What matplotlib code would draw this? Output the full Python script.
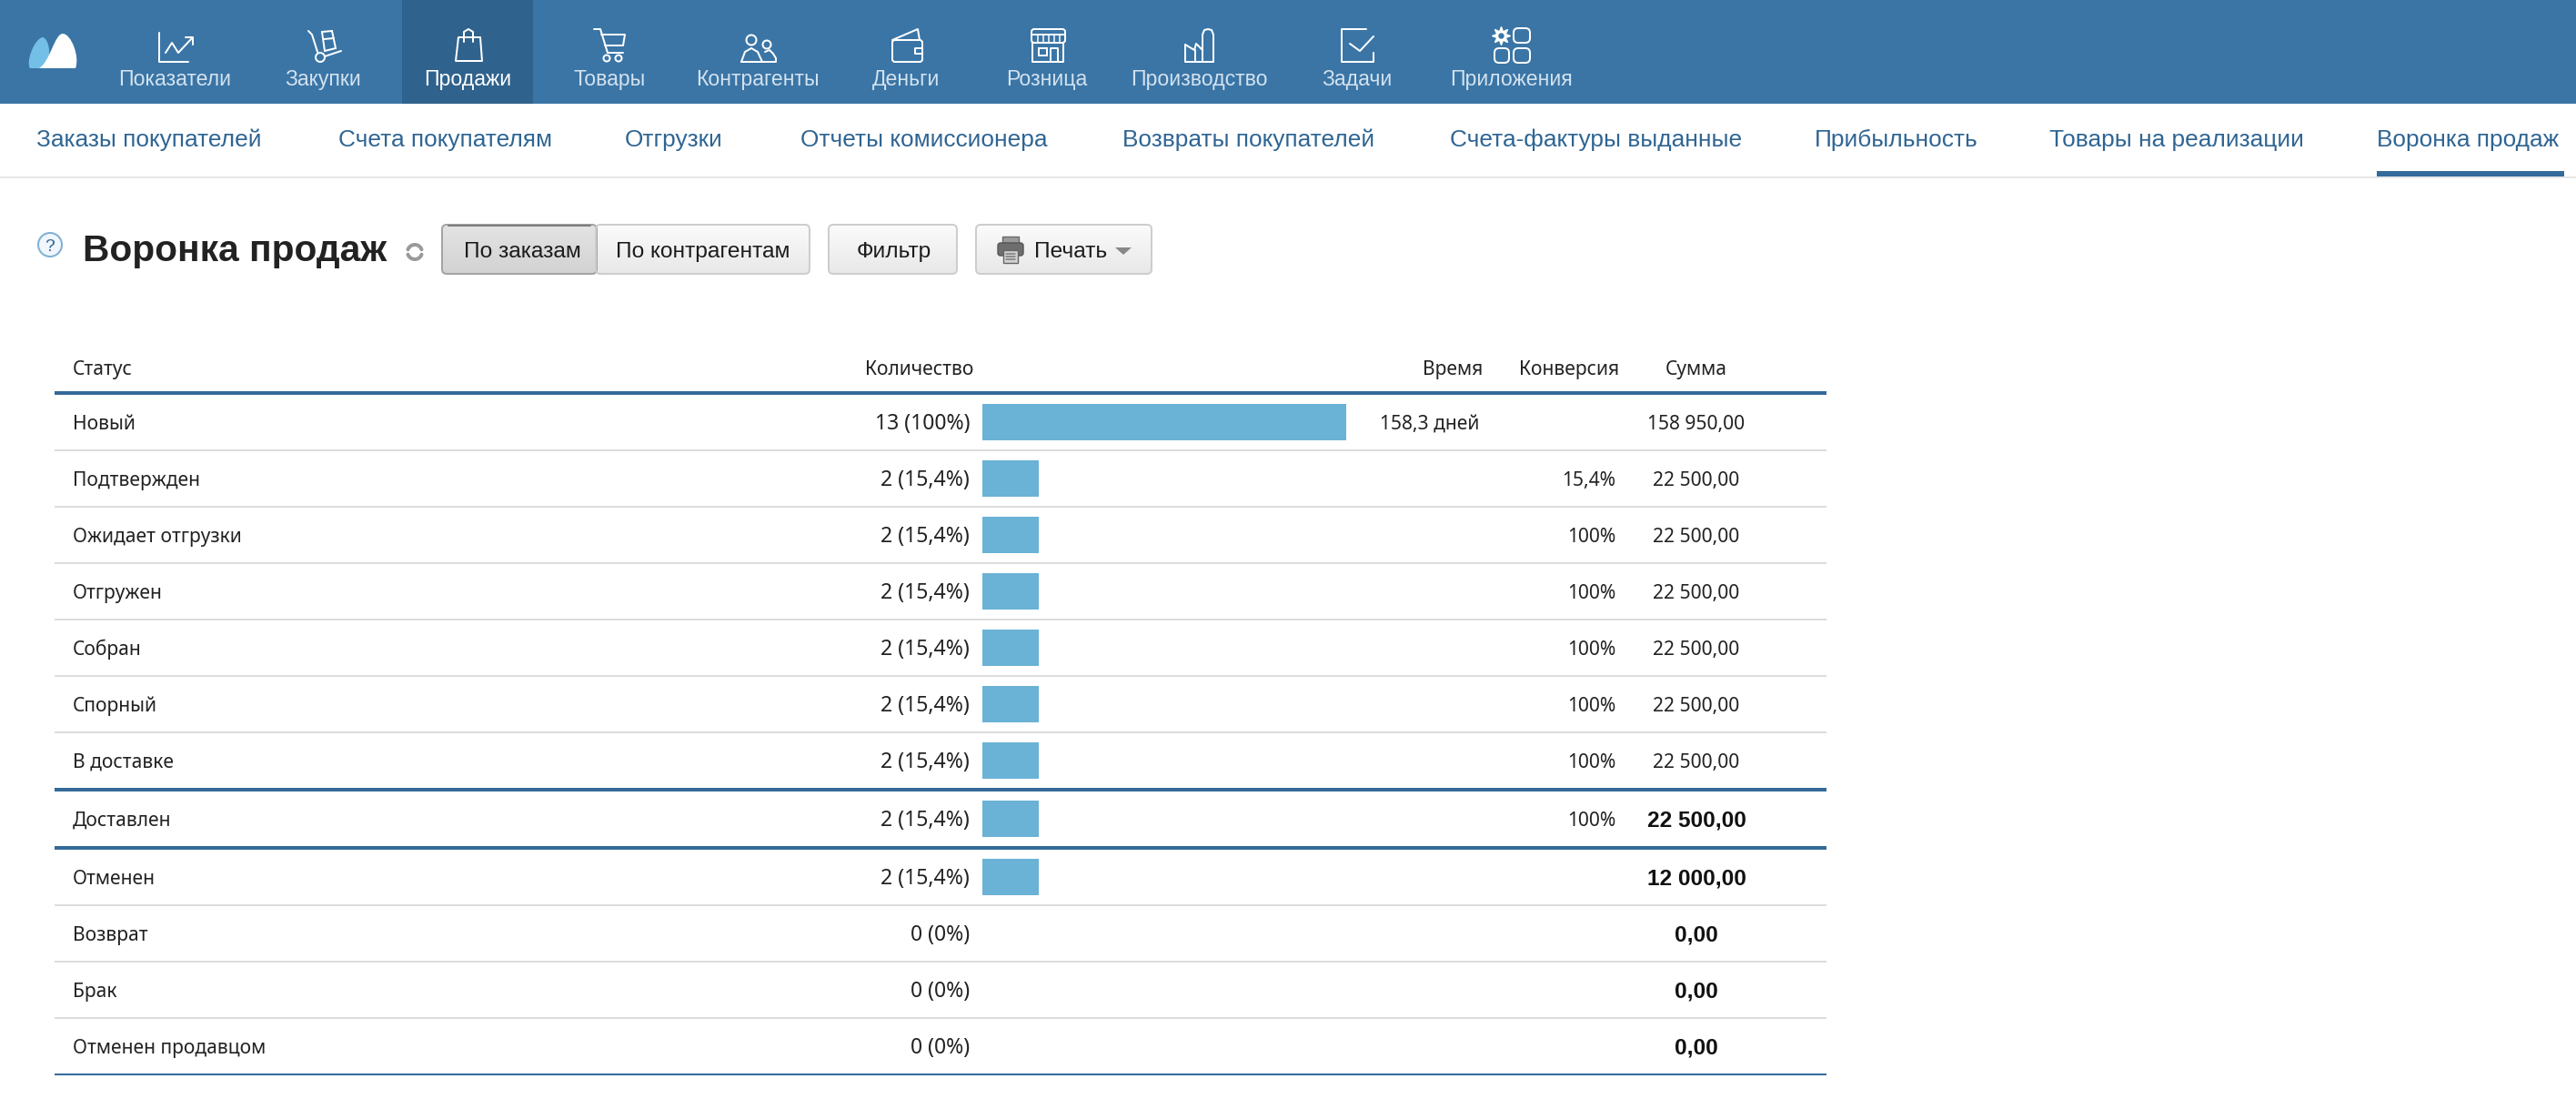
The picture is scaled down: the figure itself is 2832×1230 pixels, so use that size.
import numpy as np
import matplotlib
matplotlib.use("Agg")
import matplotlib.pyplot as plt
from matplotlib.patches import Rectangle, Circle, FancyBboxPatch, PathPatch, Polygon
from matplotlib.path import Path

# data
statuses = ["Новый", "Подтвержден", "Ожидает отгрузки", "Отгружен", "Собран", "Спорный",
            "В доставке", "Доставлен", "Отменен", "Возврат", "Брак", "Отменен продавцом"]
counts = [13, 2, 2, 2, 2, 2, 2, 2, 2, 0, 0, 0]
count_labels = ["13 (100%)", "2 (15,4%)", "2 (15,4%)", "2 (15,4%)", "2 (15,4%)", "2 (15,4%)",
                "2 (15,4%)", "2 (15,4%)", "2 (15,4%)", "0 (0%)", "0 (0%)", "0 (0%)"]
times = ["158,3 дней", "", "", "", "", "", "", "", "", "", "", ""]
conversions = ["", "15,4%", "100%", "100%", "100%", "100%", "100%", "100%", "", "", "", ""]
sums = ["158 950,00", "22 500,00", "22 500,00", "22 500,00", "22 500,00", "22 500,00",
        "22 500,00", "22 500,00", "12 000,00", "0,00", "0,00", "0,00"]
bold_sums = [False, False, False, False, False, False, False, True, True, True, True, True]
columns = ["Статус", "Количество", "Время", "Конверсия", "Сумма"]

top_menu = ["Показатели", "Закупки", "Продажи", "Товары", "Контрагенты",
            "Деньги", "Розница", "Производство", "Задачи", "Приложения"]
sub_menu = ["Заказы покупателей", "Счета покупателям", "Отгрузки", "Отчеты комиссионера",
            "Возвраты покупателей", "Счета-фактуры выданные", "Прибыльность",
            "Товары на реализации", "Воронка продаж"]

# page layout, in pixels
W, H = 2832, 1230
top_x = [192, 355, 514, 670, 833, 996, 1151, 1318, 1492, 1662]
sub_x = [40, 372, 687, 880, 1234, 1594, 1995, 2253, 2613]
row_y = [464, 526, 588, 650, 712, 774, 836, 900, 964, 1026, 1088, 1150]
sep_y = [495, 557, 619, 681, 743, 805, 995, 1057, 1119]
blue_y = [(432, 4), (868, 4), (932, 4), (1181, 2)]
HEADER = "#3a75a6"
ACTIVE = "#2f628c"
RULE = "#346a99"
BAR = "#6ab2d6"
LINK = "#2f6593"
INK = "#222222"
UI_FONT = ["Liberation Sans", "DejaVu Sans"]
TABLE_FONT = ["Noto Sans", "DejaVu Sans"]


def px(size):
    return size * 72 / 100


fig = plt.figure(figsize=(W / 100, H / 100), dpi=100, facecolor="white")
ax = fig.add_axes([0, 0, 1, 1])
ax.set_xlim(0, W)
ax.set_ylim(H, 0)
ax.axis("off")


def stroke(xs, ys, color="white", lw=2.0):
    ax.plot(xs, ys, color=color, lw=px(lw), solid_joinstyle="round", solid_capstyle="round", zorder=5)


def ring(x, y, r, color="white", lw=2.0):
    ax.add_patch(Circle((x, y), r, fill=False, ec=color, lw=px(lw), zorder=5))


def rounded(x0, y0, x1, y1, r=4, color="white", lw=2.0):
    ax.add_patch(FancyBboxPatch((x0 + r, y0 + r), x1 - x0 - 2 * r, y1 - y0 - 2 * r,
                                boxstyle=f"round,pad={r},rounding_size={r}",
                                fill=False, ec=color, lw=px(lw), zorder=5))


def button(x0, x1, c_top, c_bottom, edge="#cdcdcd", label=None, tx=None):
    y0, y1 = 247, 301
    grad = np.linspace(0, 1, 64)[:, None, None]
    top = np.array(matplotlib.colors.to_rgb(c_top))
    bottom = np.array(matplotlib.colors.to_rgb(c_bottom))
    im = ax.imshow(top + (bottom - top) * grad, extent=(x0, x1, y1, y0), aspect="auto", zorder=2)
    box = FancyBboxPatch((x0 + 5, y0 + 5), x1 - x0 - 10, y1 - y0 - 10,
                         boxstyle="round,pad=5,rounding_size=5", fill=False, ec=edge,
                         lw=px(2), zorder=3)
    ax.add_patch(box)
    im.set_clip_path(box)
    if label:
        ax.text(tx, 283, label, ha="center", va="baseline", fontsize=px(24.5),
                family=UI_FONT, color="#1c1c1c", zorder=6)


# top menu
ax.add_patch(Rectangle((0, 0), W, 114, fc=HEADER, ec="none"))
ax.add_patch(Rectangle((442, 0), 144, 114, fc=ACTIVE, ec="none"))
for i, name in enumerate(top_menu):
    ax.text(top_x[i], 94, name, ha="center", va="baseline", fontsize=px(23), family=UI_FONT,
            color="white" if name == "Продажи" else "#d3e2ee")

# logo
left_hump = Path([(33, 75), (28, 68), (38, 42), (47, 41), (53, 42), (58, 60), (50, 75), (33, 75)],
                 [Path.MOVETO, Path.CURVE4, Path.CURVE4, Path.CURVE4, Path.CURVE4, Path.CURVE4, Path.CURVE4,
                  Path.CLOSEPOLY])
ax.add_patch(PathPatch(left_hump, fc="#74bfe8", ec="none", zorder=4))
right_hump = Path([(43, 75), (55, 68), (60, 37), (69, 37), (78, 37), (88, 62), (83, 75), (43, 75)],
                  [Path.MOVETO, Path.CURVE4, Path.CURVE4, Path.CURVE4, Path.CURVE4, Path.CURVE4, Path.CURVE4,
                   Path.CLOSEPOLY])
ax.add_patch(PathPatch(right_hump, fc="white", ec="none", zorder=5))

# menu icons
stroke([175, 175, 207], [36, 68, 68])
stroke([182, 189, 196, 211], [58, 47, 58, 42])
stroke([204, 212, 212], [41, 41, 49])

stroke([339, 343, 349], [34, 38, 57])
ring(352, 63, 5)
stroke([357, 375], [62, 56])
ax.add_patch(Polygon([(354, 35), (365, 34), (369, 53), (357, 56)], closed=True, fill=False, ec="white",
                     lw=px(2), zorder=5))
stroke([356, 367], [43, 42])

ax.add_patch(Polygon([(504, 41), (528, 41), (530, 67), (501, 67)], closed=True, fill=False, ec="white",
                     lw=px(2), joinstyle="round", zorder=5))
stroke([510, 510, 515, 520, 520], [46, 35, 32, 35, 46])

stroke([653, 660, 668, 685], [32, 32, 58, 58])
stroke([661, 687, 685, 665], [38, 38, 50, 50])
ring(667, 64, 3.5)
ring(680, 64, 3.5)

ring(826, 44, 5.5)
ring(843, 49, 4.5)
stroke([815, 819, 826, 833, 838, 815], [68, 57, 53, 57, 68, 68])
stroke([841, 846, 850, 853, 853, 838], [57, 55, 59, 64, 68, 68])

rounded(981, 44, 1014, 68, r=3)
stroke([981, 1009, 1011], [44, 32, 44])
stroke([1014, 1006, 1006, 1014], [53, 53, 59, 59])

rounded(1134, 32, 1171, 47, r=3)
stroke([1134, 1171], [38, 38])
for vx in [1141, 1147, 1153, 1159, 1165]:
    stroke([vx, vx], [38, 47], lw=1.5)
stroke([1135, 1135, 1169, 1169], [47, 68, 68, 47])
ax.add_patch(Rectangle((1142, 53), 9, 8, fill=False, ec="white", lw=px(2), zorder=5))
stroke([1155, 1155, 1163, 1163], [68, 53, 53, 68])

stroke([1303, 1303, 1334, 1334, 1332, 1328, 1324, 1322, 1322], [49, 68, 68, 38, 33, 32, 33, 38, 68])
stroke([1303, 1313, 1315, 1322], [49, 55, 48, 55])
stroke([1314, 1314], [55, 68])

stroke([1502, 1475, 1475, 1510, 1510], [32, 32, 68, 68, 58])
stroke([1484, 1495, 1510], [48, 56, 40])

ax.plot([1650], [39], marker=(8, 1, 0), ms=px(20), mfc="white", mec="white", zorder=5)
ax.plot([1650], [39], marker="o", ms=px(5), mfc=HEADER, mec=HEADER, zorder=6)
rounded(1664, 31, 1682, 47, r=5)
rounded(1643, 53, 1659, 69, r=5)
rounded(1664, 53, 1682, 69, r=5)

# sub menu
for i, name in enumerate(sub_menu):
    ax.text(sub_x[i], 161, name, ha="left", va="baseline", fontsize=px(26.3), family=UI_FONT, color=LINK)
ax.add_patch(Rectangle((0, 194), W, 2, fc="#e6e6e6", ec="none"))
ax.add_patch(Rectangle((2613, 188), 206, 6, fc=RULE, ec="none"))

# page title and toolbar
ax.add_patch(Circle((55, 269), 13, fc="#f0f6fb", ec="#7fb0d4", lw=px(2), zorder=5))
ax.text(55, 276, "?", ha="center", va="baseline", fontsize=px(19), family=UI_FONT, color="#2f6593", zorder=6)
ax.text(91, 287, "Воронка продаж", ha="left", va="baseline", fontsize=px(40.6), family=UI_FONT,
        fontweight="bold", color=INK)
theta = np.radians(np.arange(20, 170, 10))
stroke(456 + 8 * np.cos(theta), 277 - 8 * np.sin(theta), color="#9a9a9a", lw=4)
stroke(456 - 8 * np.cos(theta), 277 + 8 * np.sin(theta), color="#9a9a9a", lw=4)

button(486, 656, "#e4e4e4", "#d2d2d2", edge="#a4a4a4", label="По заказам", tx=574)
button(655, 890, "#fbfbfb", "#e8e8e8", label="По контрагентам", tx=773)
button(911, 1052, "#fbfbfb", "#e8e8e8", label="Фильтр", tx=983)
button(1073, 1266, "#fbfbfb", "#e8e8e8", label="Печать", tx=1177)
stroke([493, 649], [248, 248], color="#7d7d7d", lw=2)
ax.add_patch(Rectangle((1102, 260), 18, 10, fc="#9a9a9a", ec="#6a6a6a", lw=1, zorder=6))
ax.add_patch(FancyBboxPatch((1098, 268), 26, 12, boxstyle="round,pad=1,rounding_size=3", fc="#6e6e6e",
                            ec="#555555", lw=1, zorder=6))
ax.add_patch(Rectangle((1103, 275), 16, 14, fc="#d2d2d2", ec="#666666", lw=1, zorder=7))
for ly in [279, 282, 285]:
    stroke([1106, 1116], [ly, ly], color="#777777", lw=1.5)
    ax.lines[-1].set_zorder(8)
ax.add_patch(Polygon([(1226, 272), (1244, 272), (1235, 280)], closed=True, fc="#888888", ec="none", zorder=6))

# table rules
for y in sep_y:
    ax.add_patch(Rectangle((60, y - 1), 1948, 2, fc="#dcdcdc", ec="none"))
for y, t in blue_y:
    ax.add_patch(Rectangle((60, y - t / 2), 1948, t, fc=RULE, ec="none"))

# table header and rows
tstyle = dict(va="baseline", fontsize=px(21), family=TABLE_FONT, color=INK)
ax.text(80, 412, columns[0], ha="left", **tstyle)
ax.text(1070, 412, columns[1], ha="right", **tstyle)
ax.text(1630, 412, columns[2], ha="right", **tstyle)
ax.text(1780, 412, columns[3], ha="right", **tstyle)
ax.text(1865, 412, columns[4], ha="center", **tstyle)
for i, y in enumerate(row_y):
    base = y + 8
    ax.text(80, base, statuses[i], ha="left", **tstyle)
    ax.text(1066, base, count_labels[i], ha="right", va="baseline", fontsize=px(23), family=TABLE_FONT, color=INK)
    ax.text(1626, base, times[i], ha="right", **tstyle)
    ax.text(1776, base, conversions[i], ha="right", **tstyle)
    if bold_sums[i]:
        ax.text(1865, base, sums[i], ha="center", va="baseline", fontsize=px(24.5), family=UI_FONT,
                fontweight="bold", color="#111111")
    else:
        ax.text(1865, base, sums[i], ha="center", **tstyle)

# funnel bars, 13 orders fill the 400 px column
ax_bar = fig.add_axes([1080 / W, 0, 400 / W, 1])
ax_bar.set_xlim(0, max(counts))
ax_bar.set_ylim(H, 0)
ax_bar.axis("off")
ax_bar.barh(row_y, counts, height=40, left=0, color=BAR, edgecolor="none")

fig.savefig("out.png", dpi=100, facecolor="white")
